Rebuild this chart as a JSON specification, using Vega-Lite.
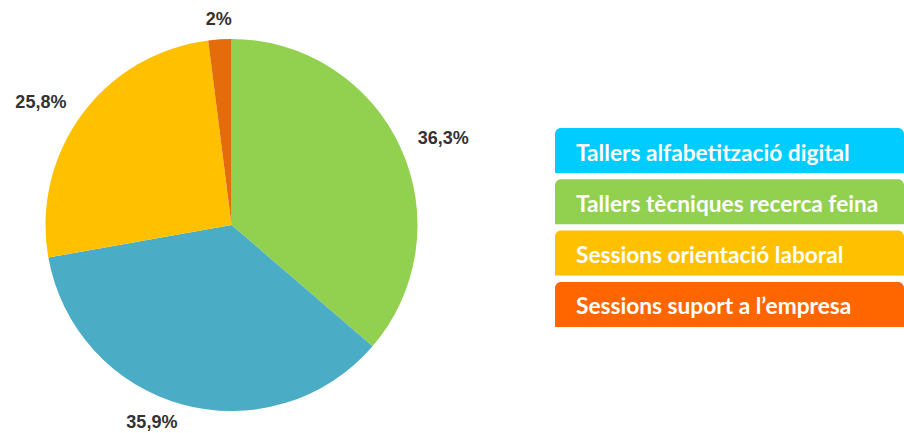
{
  "$schema": "https://vega.github.io/schema/vega-lite/v6.json",
  "padding": {"top": 11, "left": 0, "right": 0, "bottom": 0},
  "bounds": "flush",
  "spacing": 92,
  "background": "white",
  "config": {
    "view": {"stroke": null},
    "locale": {"number": {"decimal": ",", "thousands": ".", "grouping": [3], "currency": ["", " €"]}}
  },
  "datasets": {
    "d": [
      {"cat": "Tallers tècniques recerca feina", "pct": 0.363, "ord": 1, "leg": 2},
      {"cat": "Tallers alfabetització digital", "pct": 0.359, "ord": 2, "leg": 1},
      {"cat": "Sessions orientació laboral", "pct": 0.258, "ord": 3, "leg": 3},
      {"cat": "Sessions suport a l’empresa", "pct": 0.02, "ord": 4, "leg": 4}
    ]
  },
  "resolve": {"scale": {"color": "independent"}},
  "hconcat": [
    {
      "width": 463,
      "height": 422,
      "data": {"name": "d"},
      "encoding": {
        "theta": {"field": "pct", "type": "quantitative", "stack": true},
        "order": {"field": "ord", "type": "quantitative"}
      },
      "layer": [
        {
          "mark": {"type": "arc", "outerRadius": 186},
          "encoding": {
            "color": {
              "field": "cat",
              "type": "nominal",
              "legend": null,
              "scale": {
                "domain": ["Tallers tècniques recerca feina", "Tallers alfabetització digital", "Sessions orientació laboral", "Sessions suport a l’empresa"],
                "range": ["#92d050", "#4bacc6", "#ffc000", "#e46c0a"]
              }
            }
          }
        },
        {
          "mark": {
            "type": "text",
            "radius": 205,
            "align": {"expr": "datum.ord == 1 ? 'left' : (datum.ord == 4 ? 'center' : 'right')"},
            "baseline": "middle",
            "font": "Liberation Sans",
            "fontWeight": "bold",
            "fontSize": 18,
            "color": "#333333"
          },
          "encoding": {
            "text": {"field": "pct", "type": "quantitative", "format": ".1~%"}
          }
        }
      ]
    },
    {
      "width": 349,
      "height": 422,
      "data": {"name": "d"},
      "encoding": {
        "y": {
          "field": "leg",
          "type": "ordinal",
          "axis": null,
          "scale": {"domain": [-1, 0, 1, 2, 3, 4, 5, 6], "paddingInner": 0.123, "paddingOuter": 0.1745, "align": 0.637}
        }
      },
      "layer": [
        {
          "mark": {"type": "bar", "cornerRadiusTopLeft": 6, "cornerRadiusTopRight": 6},
          "encoding": {
            "color": {
              "field": "cat",
              "type": "nominal",
              "legend": null,
              "scale": {
                "domain": ["Tallers alfabetització digital", "Tallers tècniques recerca feina", "Sessions orientació laboral", "Sessions suport a l’empresa"],
                "range": ["#00ccff", "#92d050", "#ffc000", "#ff6600"]
              }
            }
          }
        },
        {
          "mark": {
            "type": "text",
            "align": "left",
            "baseline": "alphabetic",
            "dx": 21,
            "dy": 10,
            "font": "Lato",
            "fontWeight": "bold",
            "fontSize": 22.7,
            "color": "white"
          },
          "encoding": {
            "x": {"value": 0},
            "text": {"field": "cat", "type": "nominal"}
          }
        }
      ]
    }
  ]
}
